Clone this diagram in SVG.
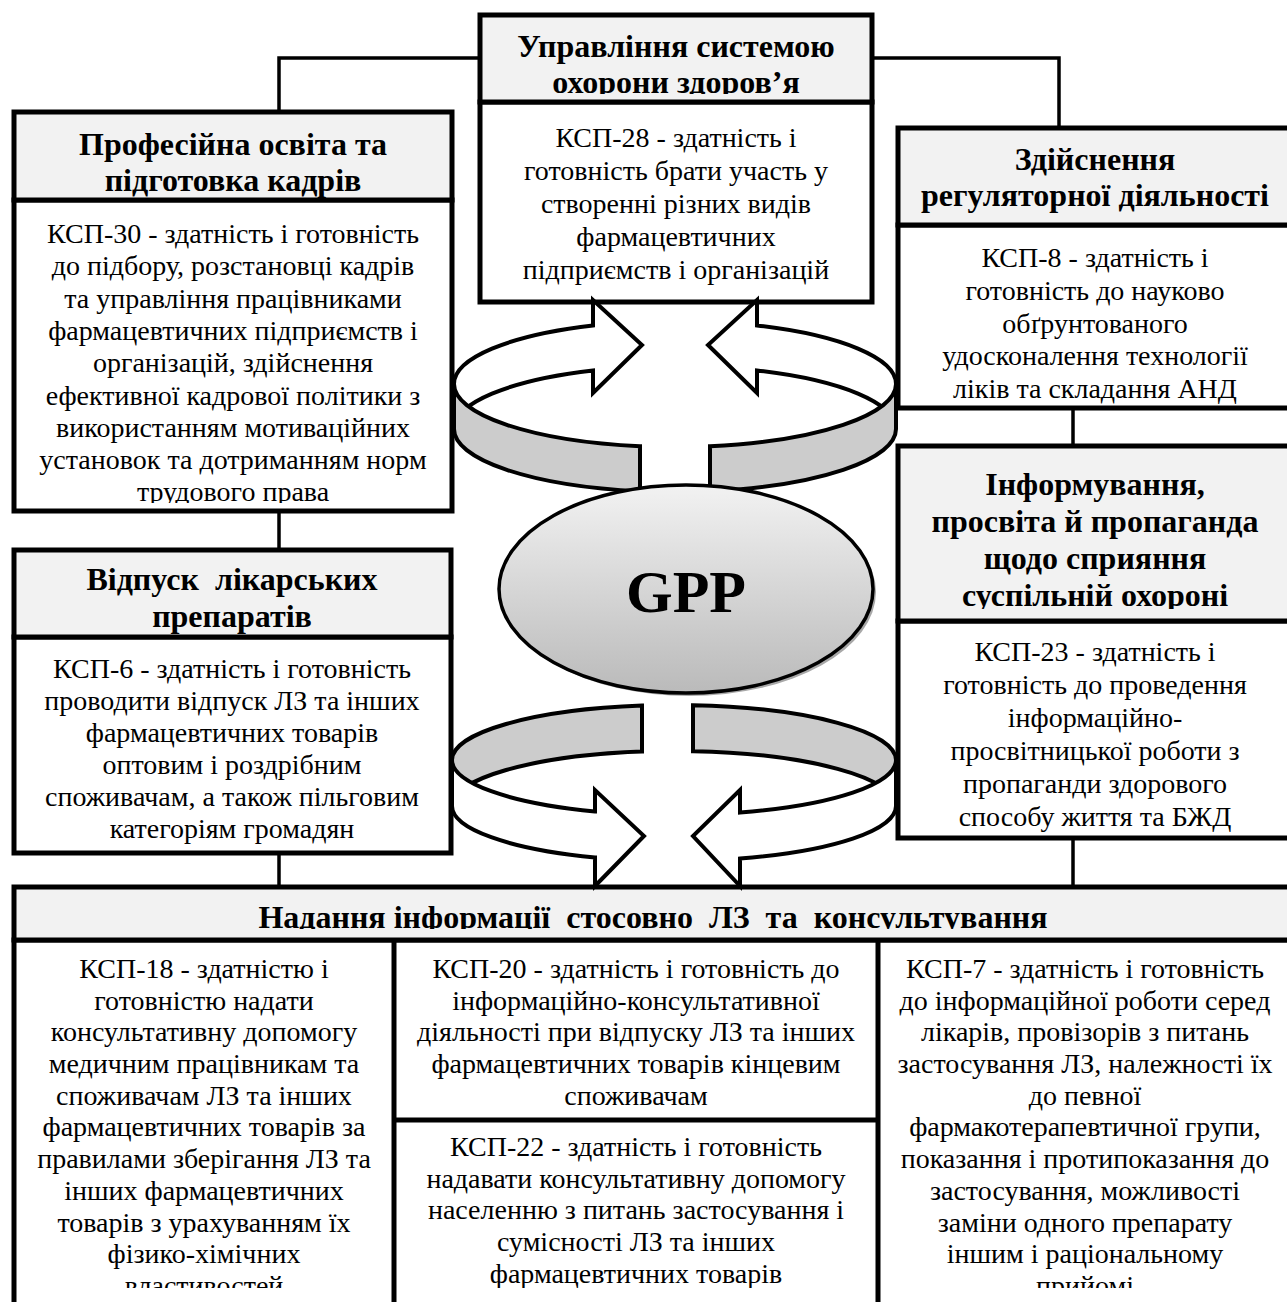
<svg xmlns="http://www.w3.org/2000/svg" width="1287" height="1302" viewBox="0 0 1287 1302">
<style>
.box{fill:#fff;stroke:#000;stroke-width:5}
.hdr{fill:#f2f2f2;stroke:#000;stroke-width:5}
.h{font-family:"Liberation Serif","Times New Roman",serif;font-weight:bold;font-size:32px;text-anchor:middle;fill:#000;white-space:pre}
.t{font-family:"Liberation Serif","Times New Roman",serif;font-size:28px;text-anchor:middle;fill:#000}
.conn{fill:none;stroke:#000;stroke-width:3.5}
.rw{fill:#fff;stroke:#000;stroke-width:4;stroke-linejoin:miter}
.rg{fill:#cccccc;stroke:#000;stroke-width:4;stroke-linejoin:miter}
.div{stroke:#000;stroke-width:5}
</style>
<defs>
<linearGradient id="gpp" x1="0" y1="0" x2="0" y2="1">
<stop offset="0" stop-color="#f2f2f2"/>
<stop offset="1" stop-color="#bababa"/>
</linearGradient>
<clipPath id="cpTop"><rect x="482" y="17" width="388" height="77"/></clipPath>
<clipPath id="cpL"><rect x="16" y="202" width="434" height="301"/></clipPath>
<clipPath id="cpR2"><rect x="900" y="448" width="390" height="161"/></clipPath>
<clipPath id="cpB"><rect x="16" y="889" width="1274" height="40"/></clipPath>
<clipPath id="cpBB"><rect x="0" y="942" width="1287" height="346"/></clipPath>
</defs>
<rect width="1287" height="1302" fill="#fff"/>

<g id="connectors">
<path class="conn" d="M480,58 H279 V112"/>
<path class="conn" d="M872,58 H1059 V128"/>
<path class="conn" d="M279,511 V550"/>
<path class="conn" d="M279,853 V887"/>
<path class="conn" d="M1073,408 V446"/>
<path class="conn" d="M1073,838 V887"/>
</g>

<g id="node-health">
<rect class="box" x="480" y="102" width="392" height="200"/>
<rect class="hdr" x="480" y="15" width="392" height="87"/>
<g clip-path="url(#cpTop)">
<text class="h" x="676" y="57">Управління системою</text>
<text class="h" x="676" y="93">охорони здоров’я</text>
</g>
<text class="t" x="676" y="147">КСП-28 - здатність і</text>
<text class="t" x="676" y="180">готовність брати участь у</text>
<text class="t" x="676" y="213">створенні різних видів</text>
<text class="t" x="676" y="246">фармацевтичних</text>
<text class="t" x="676" y="279">підприємств і організацій</text>
</g>

<g id="node-education">
<rect class="box" x="14" y="200" width="438" height="311"/>
<rect class="hdr" x="14" y="112" width="438" height="88"/>
<text class="h" x="233" y="155">Професійна освіта та</text>
<text class="h" x="233" y="191">підготовка кадрів</text>
<g clip-path="url(#cpL)">
<text class="t" x="233" y="243">КСП-30 - здатність і готовність</text>
<text class="t" x="233" y="275">до підбору, розстановці кадрів</text>
<text class="t" x="233" y="308">та управління працівниками</text>
<text class="t" x="233" y="340">фармацевтичних підприємств і</text>
<text class="t" x="233" y="372">організацій, здійснення</text>
<text class="t" x="233" y="405">ефективної кадрової політики з</text>
<text class="t" x="233" y="437">використанням мотиваційних</text>
<text class="t" x="233" y="469">установок та дотриманням норм</text>
<text class="t" x="233" y="501">трудового права</text>
</g>
</g>

<g id="node-regulatory">
<rect class="box" x="898" y="225" width="394" height="183"/>
<rect class="hdr" x="898" y="128" width="394" height="97"/>
<text class="h" x="1095" y="170">Здійснення</text>
<text class="h" x="1095" y="206">регуляторної діяльності</text>
<text class="t" x="1095" y="267">КСП-8 - здатність і</text>
<text class="t" x="1095" y="300">готовність до науково</text>
<text class="t" x="1095" y="333">обґрунтованого</text>
<text class="t" x="1095" y="365">удосконалення технології</text>
<text class="t" x="1095" y="398">ліків та складання АНД</text>
</g>

<g id="node-dispensing">
<rect class="box" x="14" y="637" width="437" height="216"/>
<rect class="hdr" x="14" y="550" width="437" height="87"/>
<text class="h" x="232" y="590">Відпуск  лікарських</text>
<text class="h" x="232" y="627">препаратів</text>
<text class="t" x="232" y="678">КСП-6 - здатність і готовність</text>
<text class="t" x="232" y="710">проводити відпуск ЛЗ та інших</text>
<text class="t" x="232" y="742">фармацевтичних товарів</text>
<text class="t" x="232" y="774">оптовим і роздрібним</text>
<text class="t" x="232" y="806">споживачам, а також пільговим</text>
<text class="t" x="232" y="838">категоріям громадян</text>
</g>

<g id="node-informing">
<rect class="box" x="898" y="621" width="394" height="217"/>
<rect class="hdr" x="898" y="446" width="394" height="175"/>
<g clip-path="url(#cpR2)">
<text class="h" x="1095" y="495">Інформування,</text>
<text class="h" x="1095" y="532">просвіта й пропаганда</text>
<text class="h" x="1095" y="569">щодо сприяння</text>
<text class="h" x="1095" y="606">суспільній охороні</text>
</g>
<text class="t" x="1095" y="661">КСП-23 - здатність і</text>
<text class="t" x="1095" y="694">готовність до проведення</text>
<text class="t" x="1095" y="727">інформаційно-</text>
<text class="t" x="1095" y="760">просвітницької роботи з</text>
<text class="t" x="1095" y="793">пропаганди здорового</text>
<text class="t" x="1095" y="826">способу життя та БЖД</text>
</g>

<g id="node-consulting">
<rect class="box" x="14" y="940" width="1278" height="380"/>
<rect class="hdr" x="14" y="887" width="1278" height="53"/>
<g clip-path="url(#cpB)">
<text class="h" x="653" y="928">Надання інформації  стосовно  ЛЗ  та  консультування</text>
</g>
<line class="div" x1="394" y1="940" x2="394" y2="1310"/>
<line class="div" x1="878" y1="940" x2="878" y2="1310"/>
<line class="div" x1="394" y1="1120" x2="878" y2="1120"/>
<g clip-path="url(#cpBB)">
<text class="t" x="204" y="978">КСП-18 - здатністю і</text>
<text class="t" x="204" y="1010">готовністю надати</text>
<text class="t" x="204" y="1041">консультативну допомогу</text>
<text class="t" x="204" y="1073">медичним працівникам та</text>
<text class="t" x="204" y="1105">споживачам ЛЗ та інших</text>
<text class="t" x="204" y="1136">фармацевтичних товарів за</text>
<text class="t" x="204" y="1168">правилами зберігання ЛЗ та</text>
<text class="t" x="204" y="1200">інших фармацевтичних</text>
<text class="t" x="204" y="1232">товарів з урахуванням їх</text>
<text class="t" x="204" y="1263">фізико-хімічних</text>
<text class="t" x="204" y="1295">властивостей</text>

<text class="t" x="636" y="978">КСП-20 - здатність і готовність до</text>
<text class="t" x="636" y="1010">інформаційно-консультативної</text>
<text class="t" x="636" y="1041">діяльності при відпуску ЛЗ та інших</text>
<text class="t" x="636" y="1073">фармацевтичних товарів кінцевим</text>
<text class="t" x="636" y="1105">споживачам</text>

<text class="t" x="636" y="1156">КСП-22 - здатність і готовність</text>
<text class="t" x="636" y="1188">надавати консультативну допомогу</text>
<text class="t" x="636" y="1219">населенню з питань застосування і</text>
<text class="t" x="636" y="1251">сумісності ЛЗ та інших</text>
<text class="t" x="636" y="1283">фармацевтичних товарів</text>

<text class="t" x="1085" y="978">КСП-7 - здатність і готовність</text>
<text class="t" x="1085" y="1010">до інформаційної роботи серед</text>
<text class="t" x="1085" y="1041">лікарів, провізорів з питань</text>
<text class="t" x="1085" y="1073">застосування ЛЗ, належності їх</text>
<text class="t" x="1085" y="1105">до певної</text>
<text class="t" x="1085" y="1136">фармакотерапевтичної групи,</text>
<text class="t" x="1085" y="1168">показання і протипоказання до</text>
<text class="t" x="1085" y="1200">застосування, можливості</text>
<text class="t" x="1085" y="1232">заміни одного препарату</text>
<text class="t" x="1085" y="1263">іншим і раціональному</text>
<text class="t" x="1085" y="1295">прийомі</text>
</g>
</g>

<g id="ring-top">
<path class="rw" d="M593,325.5 A221,63 0 0 0 454,384 L454,429 A221,63 0 0 1 593,370.5 L593,393 L642,345 L593,300 Z"/>
<path class="rg" d="M454,384 A221,63 0 0 0 640,446.2 L640,491.2 A221,63 0 0 1 454,429 Z"/>
<path class="rw" d="M757,325.5 A221,63 0 0 1 896,384 L896,429 A221,63 0 0 0 757,370.5 L757,393 L708,345 L757,300 Z"/>
<path class="rg" d="M896,384 A221,63 0 0 1 710,446.2 L710,491.2 A221,63 0 0 0 896,429 Z"/>
</g>

<g id="ring-bottom">
<path class="rg" d="M642,705.6 A222,55 0 0 0 452,760 L452,806 A222,55 0 0 1 642,751.6 Z"/>
<path class="rg" d="M693,705.2 A222,55 0 0 1 896,760 L896,806 A222,55 0 0 0 693,751.2 Z"/>
<path class="rw" d="M452,760 A222,55 0 0 0 595,811.4 L595,790 L644,836 L595,886 L595,857.4 A222,55 0 0 1 452,806 Z"/>
<path class="rw" d="M896,760 A222,55 0 0 1 740,812.5 L740,790 L693,836 L740,886 L740,858.5 A222,55 0 0 0 896,806 Z"/>
</g>

<g id="node-gpp">
<ellipse cx="689" cy="592" rx="187" ry="104" fill="#a8a8a8"/>
<ellipse cx="686" cy="589" rx="187" ry="104" fill="url(#gpp)" stroke="#000" stroke-width="3.5"/>
<text x="686" y="612" font-family="'Liberation Serif','Times New Roman',serif" font-weight="bold" font-size="60" text-anchor="middle" fill="#000">GPP</text>
</g>
</svg>
